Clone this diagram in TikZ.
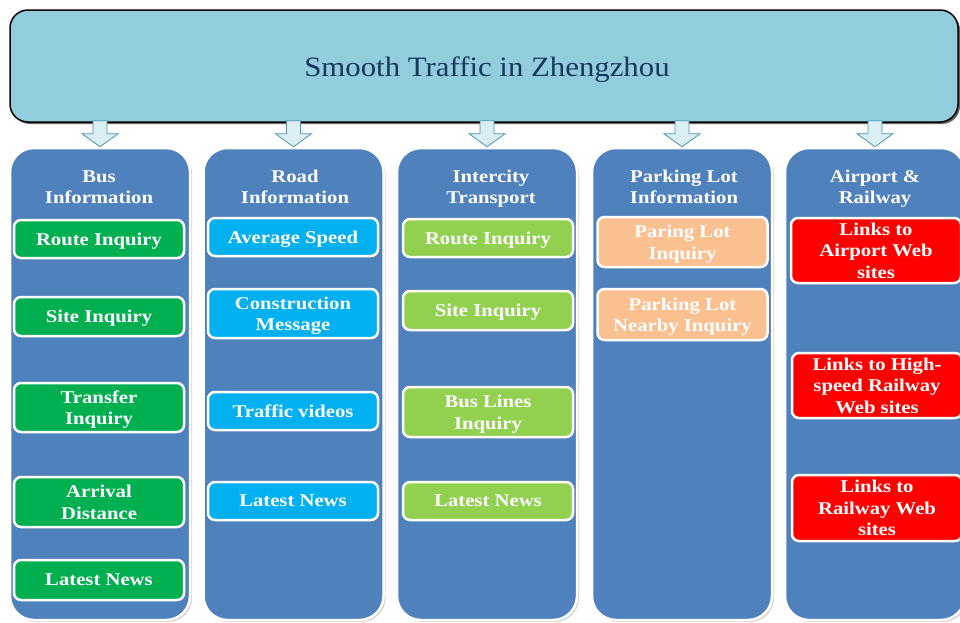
\documentclass[tikz,border=0pt]{standalone}
\usepackage{fontspec}
\setmainfont{Liberation Serif}
\newfontfamily\boxfont[FakeStretch=1.15]{Liberation Serif}
\newfontfamily\titlefont[FakeStretch=1.1]{Liberation Serif}
\usetikzlibrary{shadows}
\definecolor{bannerfill}{RGB}{146,205,221}
\definecolor{titlecol}{RGB}{23,55,94}
\definecolor{colfill}{RGB}{79,129,189}
\definecolor{arrfill}{RGB}{218,238,243}
\definecolor{arrdraw}{RGB}{75,150,170}
\definecolor{cgreen}{RGB}{0,176,80}
\definecolor{ccyan}{RGB}{0,176,240}
\definecolor{clgreen}{RGB}{146,208,80}
\definecolor{cpeach}{RGB}{250,192,144}
\definecolor{cred}{RGB}{255,0,0}
\begin{document}
\begin{tikzpicture}[x=1pt,y=-1pt,
 banner/.style={draw=black, line width=1.5pt, fill=bannerfill, rounded corners=18pt, minimum width=948pt, minimum height=112pt, inner sep=0pt, drop shadow={shadow xshift=2pt,shadow yshift=-2pt,fill=black,opacity=0.6}},
 titletext/.style={text=titlecol, font=\titlefont\fontsize{28}{30}\selectfont, inner sep=0pt, text depth=0pt},
 column/.style={draw=white, line width=2.5pt, fill=colfill, rounded corners=24pt, minimum width=180pt, minimum height=472pt, inner sep=0pt, drop shadow={shadow xshift=2pt,shadow yshift=-2pt,opacity=0.35}},
 colhead/.style={text=white, font=\boxfont\fontsize{18}{21}\selectfont\bfseries, align=center, inner sep=0pt, text depth=0pt},
 item/.style={draw=white, line width=2.5pt, rounded corners=7pt, minimum width=170pt, inner sep=0pt, text depth=0pt, text=white, font=\boxfont\fontsize{18}{21.5}\selectfont\bfseries, align=center, drop shadow={shadow xshift=1.5pt,shadow yshift=-1.5pt,opacity=0.3}},
 item3/.style={item, font=\boxfont\fontsize{18}{21.5}\selectfont\bfseries},
 barrow/.style={draw=arrdraw, fill=arrfill, line width=0.8pt, line join=miter}
]
\useasboundingbox[fill=white] (0,0) rectangle (960,622);

\node[banner] (banner) at (484,66) {};
\node[titletext] (title) at (487,67) {Smooth Traffic in Zhengzhou};

\node[column] (c1) at (100,384) {};
\node[column] (c2) at (293.5,384) {};
\node[column] (c3) at (487,384) {};
\node[column] (c4) at (682,384) {};
\node[column] (c5) at (875,384) {};

\foreach \c in {c1,c2,c3,c4,c5}{
  \draw[barrow] (\c.north) -- ++(18,-13) -- ++(-11,0) -- ++(0,-13) -- ++(-14,0) -- ++(0,13) -- ++(-11,0) -- cycle;
}

\node[colhead] (h1) at (99,187) {Bus\\Information};
\node[colhead] (h2) at (295,187) {Road\\Information};
\node[colhead] (h3) at (491,187) {Intercity\\Transport};
\node[colhead] (h4) at (684,187) {Parking Lot\\Information};
\node[colhead] (h5) at (875,187) {Airport \&\\Railway};

\node[item, fill=cgreen, minimum height=38pt] (a1) at (99,239) {Route Inquiry};
\node[item, fill=cgreen, minimum height=39pt] (a2) at (99,316.5) {Site Inquiry};
\node[item, fill=cgreen, minimum height=49pt] (a3) at (99,407.5) {Transfer\\Inquiry};
\node[item, fill=cgreen, minimum height=50pt] (a4) at (99,502) {Arrival\\Distance};
\node[item, fill=cgreen, minimum height=40pt] (a5) at (99,580) {Latest News};

\node[item, fill=ccyan, minimum height=38pt] (b1) at (293,237) {Average Speed};
\node[item, fill=ccyan, minimum height=49pt] (b2) at (293,313.5) {Construction\\Message};
\node[item, fill=ccyan, minimum height=38pt] (b3) at (293,411) {Traffic videos};
\node[item, fill=ccyan, minimum height=38pt] (b4) at (293,501) {Latest News};

\node[item, fill=clgreen, minimum height=38pt] (d1) at (488,238) {Route Inquiry};
\node[item, fill=clgreen, minimum height=39pt] (d2) at (488,310.5) {Site Inquiry};
\node[item, fill=clgreen, minimum height=50pt] (d3) at (488,412) {Bus Lines\\Inquiry};
\node[item, fill=clgreen, minimum height=38pt] (d4) at (488,501) {Latest News};

\node[item, fill=cpeach, minimum height=50pt] (e1) at (682.5,242) {Paring Lot\\Inquiry};
\node[item, fill=cpeach, minimum height=51pt] (e2) at (682.5,314.5) {Parking Lot\\Nearby Inquiry};

\node[item3, fill=cred, minimum height=65pt] (f1) at (876,250.5) {Links to\\Airport Web\\sites};
\node[item3, fill=cred, minimum height=65pt] (f2) at (877,385.5) {Links to High-\\speed Railway\\Web sites};
\node[item3, fill=cred, minimum height=66pt] (f3) at (877,508) {Links to\\Railway Web\\sites};
\end{tikzpicture}
\end{document}
